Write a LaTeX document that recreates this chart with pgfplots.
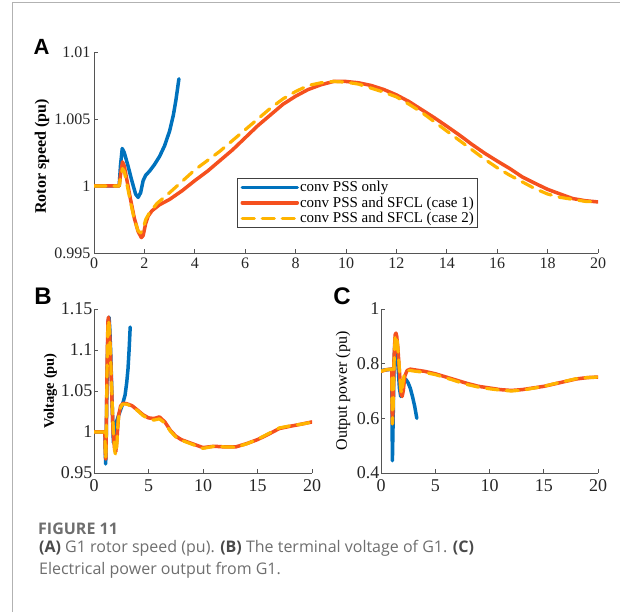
\documentclass[border=0pt]{standalone}
\usepackage{fontspec}
\setmainfont{Liberation Serif}
\newfontfamily\capfont{Open Sans}
\newfontfamily\letfont{Liberation Sans}
\usepackage{pgfplots}
\pgfplotsset{compat=1.18}
\usepackage{pgfplotstable}
\definecolor{cblue}{HTML}{0072BD}
\definecolor{cred}{HTML}{F5501E}
\definecolor{cyel}{HTML}{FFB400}
\definecolor{axg}{HTML}{555555}
\definecolor{capg}{HTML}{6E6E6E}
\definecolor{capd}{HTML}{4A4A4A}

\pgfplotstableread{
t w
0 1.0
1.0 1.0
1.05 1.0015
1.12 1.0028
1.2 1.0025
1.35 1.0015
1.5 1.0004
1.65 0.9994
1.75 0.99915
1.85 0.9995
1.95 1.0004
2.05 1.0008
2.2 1.0011
2.4 1.0016
2.6 1.0022
2.8 1.0030
3.0 1.0041
3.15 1.0053
3.25 1.0064
3.37 1.0080
}\Ablue
\pgfplotstableread{
t w
0 1.0
1.0 1.0
1.05 1.0008
1.13 1.0018
1.2 1.0015
1.3 1.0005
1.45 0.9990
1.6 0.9976
1.75 0.9966
1.88 0.99615
1.95 0.9963
2.05 0.9972
2.15 0.99775
2.3 0.99815
2.6 0.9986
3.0 0.9990
3.5 0.99965
4.0 1.0004
4.5 1.0011
5.0 1.0019
5.5 1.0027
6.0 1.0036
6.5 1.0045
7.0 1.0053
7.5 1.0061
8.0 1.0067
8.5 1.0072
9.0 1.00755
9.5 1.0078
10.0 1.0078
10.5 1.0077
11.0 1.0075
11.5 1.0072
12.0 1.0068
12.5 1.0063
13.0 1.0057
13.5 1.0051
14.0 1.00446
14.5 1.0038
15.0 1.0031
15.5 1.00245
16.0 1.00186
16.5 1.0013
17.0 1.00067
17.5 1.0002
18.0 0.99975
18.5 0.9994
19.0 0.99906
19.5 0.9989
20.0 0.99881
}\Ared
\pgfplotstableread{
t w
0 1.0
1.0 1.0
1.05 1.0006
1.13 1.0013
1.2 1.0011
1.3 1.0002
1.45 0.9988
1.6 0.9975
1.75 0.99665
1.85 0.9965
1.95 0.9968
2.05 0.9975
2.2 0.9980
2.5 0.9987
3.0 0.9995
3.5 1.00035
4.0 1.0012
4.5 1.0019
5.0 1.0026
5.5 1.0034
6.0 1.0042
6.5 1.0050
7.0 1.0058
7.5 1.0065
8.0 1.00705
8.5 1.0075
9.0 1.0077
9.5 1.0078
10.0 1.00775
10.5 1.0076
11.0 1.0073
11.5 1.0070
12.0 1.00665
12.5 1.0061
13.0 1.0055
13.5 1.0048
14.0 1.0041
14.5 1.0034
15.0 1.0027
15.5 1.0020
16.0 1.00136
16.5 1.0008
17.0 1.0003
17.5 0.9998
18.0 0.9994
18.5 0.99915
19.0 0.9990
19.5 0.99885
20.0 0.99881
}\Ayel

\pgfplotstableread{
t v
0 1.0
1.0 1.0
1.03 0.98
1.07 0.961
1.12 0.99
1.2 1.07
1.3 1.135
1.38 1.14
1.45 1.125
1.55 1.09
1.65 1.04
1.78 0.987
1.9 0.998
2.05 1.012
2.3 1.022
2.6 1.033
2.85 1.045
3.0 1.060
3.12 1.077
3.22 1.100
3.32 1.128
}\Bblue
\pgfplotstableread{
t v
0 1.0
1.0 1.0
1.04 0.975
1.08 0.967
1.13 1.0
1.2 1.08
1.28 1.135
1.33 1.14
1.4 1.13
1.5 1.10
1.62 1.05
1.75 1.0
1.9 0.978
2.0 0.976
2.1 0.99
2.25 1.02
2.45 1.032
2.7 1.035
3.0 1.0345
3.5 1.032
4.0 1.0266
4.5 1.021
5.0 1.0172
5.5 1.0164
6.0 1.0184
6.5 1.0123
7.0 1.0021
7.5 0.995
8.0 0.9907
9.0 0.9858
10.0 0.981
11.0 0.9826
12.0 0.9818
13.0 0.9818
14.0 0.9858
15.0 0.9907
16.0 0.9972
17.0 1.0042
18.0 1.007
19.0 1.0095
20.0 1.0123
}\Bred
\pgfplotstableread{
t v
0 1.0
1.0 1.0
1.04 0.975
1.08 0.967
1.13 1.0
1.2 1.075
1.28 1.13
1.33 1.137
1.4 1.128
1.5 1.10
1.62 1.055
1.78 1.0
1.92 0.975
2.02 0.972
2.1 0.985
2.2 1.01
2.35 1.027
2.6 1.034
3.0 1.034
3.5 1.031
4.0 1.026
4.5 1.02
5.0 1.016
5.5 1.0145
6.0 1.016
6.5 1.011
7.0 1.001
7.5 0.994
8.0 0.990
9.0 0.985
10.0 0.980
11.0 0.9825
12.0 0.9818
13.0 0.9815
14.0 0.9855
15.0 0.991
16.0 0.998
17.0 1.005
18.0 1.0075
19.0 1.0095
20.0 1.012
}\Byel

\pgfplotstableread{
t p
0 0.775
1.0 0.78
1.02 0.6
1.05 0.445
1.1 0.55
1.2 0.8
1.3 0.895
1.4 0.88
1.55 0.80
1.7 0.71
1.82 0.68
1.95 0.70
2.1 0.735
2.3 0.742
2.5 0.73
2.7 0.71
2.9 0.68
3.1 0.645
3.3 0.6
}\Cblue
\pgfplotstableread{
t p
0 0.772
0.5 0.778
1.0 0.78
1.02 0.66
1.05 0.58
1.12 0.65
1.2 0.82
1.3 0.905
1.38 0.912
1.45 0.9
1.55 0.86
1.7 0.77
1.85 0.69
1.95 0.68
2.05 0.70
2.2 0.755
2.4 0.775
2.7 0.78
3.0 0.778
4.0 0.772
5.0 0.763
6.0 0.751
7.0 0.739
8.0 0.727
9.0 0.717
10.0 0.711
11.0 0.705
12.0 0.702
13.0 0.705
14.0 0.711
15.0 0.717
16.0 0.726
17.0 0.735
18.0 0.744
19.0 0.749
20.0 0.751
}\Cred
\pgfplotstableread{
t p
0 0.772
0.5 0.778
1.0 0.78
1.02 0.66
1.05 0.58
1.12 0.64
1.2 0.80
1.3 0.895
1.38 0.905
1.45 0.895
1.55 0.86
1.7 0.78
1.82 0.71
1.9 0.69
2.0 0.72
2.15 0.765
2.4 0.775
2.7 0.775
3.0 0.773
4.0 0.768
5.0 0.76
6.0 0.748
7.0 0.735
8.0 0.723
9.0 0.714
10.0 0.708
11.0 0.703
12.0 0.70
13.0 0.703
14.0 0.71
15.0 0.717
16.0 0.727
17.0 0.736
18.0 0.745
19.0 0.749
20.0 0.751
}\Cyel

\pgfplotsset{
  panel/.style={scale only axis, xmin=0, xmax=20,
    axis x line*=bottom, axis y line*=left,
    axis line style={draw=axg, line width=0.8pt, -},
    every tick/.style={draw=axg, line width=0.8pt},
    major tick length=4pt, tick align=inside,
    /pgf/number format/assume math mode=true,
    ticklabel style={text=black!85},
    every axis plot/.append style={line join=round, line cap=round}},
  sb/.style={draw=cblue, line width=3.5pt},
  sr/.style={draw=cred, line width=3.5pt},
  sy/.style={draw=cyel, line width=3.2pt, dash pattern=on 12pt off 8pt},
}

\begin{document}
\begin{tikzpicture}
\path[use as bounding box] (0pt,0pt) rectangle (620pt,612pt);
\draw[black!30, line width=1pt] (12pt,0pt) -- (12pt,609pt) -- (620pt,609pt);

\begin{axis}[panel, at={(94pt,359pt)}, anchor=south west,
  width=504pt, height=201pt,
  ymin=0.995, ymax=1.01,
  ytick={0.995,1,1.005,1.01}, yticklabels={0.995,1,1.005,1.01},
  xtick={0,2,...,20},
  ticklabel style={font=\fontsize{16}{16}\selectfont},
  xticklabel style={yshift=-1.5pt},
  ylabel={\bfseries Rotor speed (pu)},
  ylabel style={font=\fontsize{16}{16}\selectfont, at={(axis description cs:-0.103,0.48)}, anchor=center},
  legend cell align=left,
  legend style={at={(0.284,0.373)}, anchor=north west, draw=black!75, line width=0.8pt,
    font=\fontsize{15}{15}\selectfont, nodes={inner sep=1pt}, row sep=1.5pt},
  legend image code/.code={\draw[#1] (0pt,0pt) -- (55pt,0pt);},
]
\addplot[sb] table[x=t,y=w] {\Ablue};
\addlegendentry{conv PSS only}
\addplot[sr] table[x=t,y=w] {\Ared};
\addlegendentry{conv PSS and SFCL (case 1)}
\addplot[sy] table[x=t,y=w] {\Ayel};
\addlegendentry{conv PSS and SFCL (case 2)}
\end{axis}

\begin{axis}[panel, at={(94pt,139pt)}, anchor=south west,
  width=218pt, height=164pt,
  ymin=0.95, ymax=1.15,
  ytick={0.95,1,1.05,1.1,1.15}, yticklabels={0.95,1,1.05,1.1,1.15},
  xtick={0,5,10,15,20},
  ticklabel style={font=\fontsize{18}{18}\selectfont},
  yticklabel style={inner xsep=1.5pt},
  xticklabel style={yshift=-3pt},
  ylabel={\bfseries Voltage (pu)},
  ylabel style={font=\fontsize{14.5}{15}\selectfont, at={(axis description cs:-0.2,0.5)}, anchor=center},
]
\addplot[sb] table[x=t,y=v] {\Bblue};
\addplot[sr] table[x=t,y=v] {\Bred};
\addplot[sy] table[x=t,y=v] {\Byel};
\end{axis}

\begin{axis}[panel, at={(381pt,139pt)}, anchor=south west,
  width=217pt, height=164pt,
  ymin=0.4, ymax=1,
  ytick={0.4,0.6,0.8,1}, yticklabels={0.4,0.6,0.8,1},
  xtick={0,5,10,15,20},
  ticklabel style={font=\fontsize{18}{18}\selectfont},
  yticklabel style={inner xsep=1.5pt},
  xticklabel style={yshift=-3pt},
  ylabel={Output power (pu)},
  ylabel style={font=\fontsize{16}{16}\selectfont, at={(axis description cs:-0.175,0.5)}, anchor=center},
]
\addplot[sb] table[x=t,y=p] {\Cblue};
\addplot[sr] table[x=t,y=p] {\Cred};
\addplot[sy] table[x=t,y=p] {\Cyel};
\end{axis}

\node[font=\letfont\bfseries\fontsize{22}{22}\selectfont] at (41.5pt,565pt) {A};
\node[font=\letfont\bfseries\fontsize{24}{24}\selectfont] at (43pt,316pt) {B};
\node[font=\letfont\bfseries\fontsize{24}{24}\selectfont] at (342pt,316pt) {C};

\node[anchor=base west, inner sep=0pt, font=\capfont\fontsize{16}{16}\selectfont\bfseries, text=capg] at (38pt,77pt) {FIGURE 11};
\node[anchor=base west, inner sep=0pt, font=\capfont\fontsize{16}{16}\selectfont, text=capg] at (39pt,59pt)
  {\textcolor{capd}{\bfseries (A)} G1 rotor speed (pu). \textcolor{capd}{\bfseries (B)} The terminal voltage of G1. \textcolor{capd}{\bfseries (C)}};
\node[anchor=base west, inner sep=0pt, font=\capfont\fontsize{16}{16}\selectfont, text=capg] at (39pt,37pt)
  {Electrical power output from G1.};
\end{tikzpicture}
\end{document}
